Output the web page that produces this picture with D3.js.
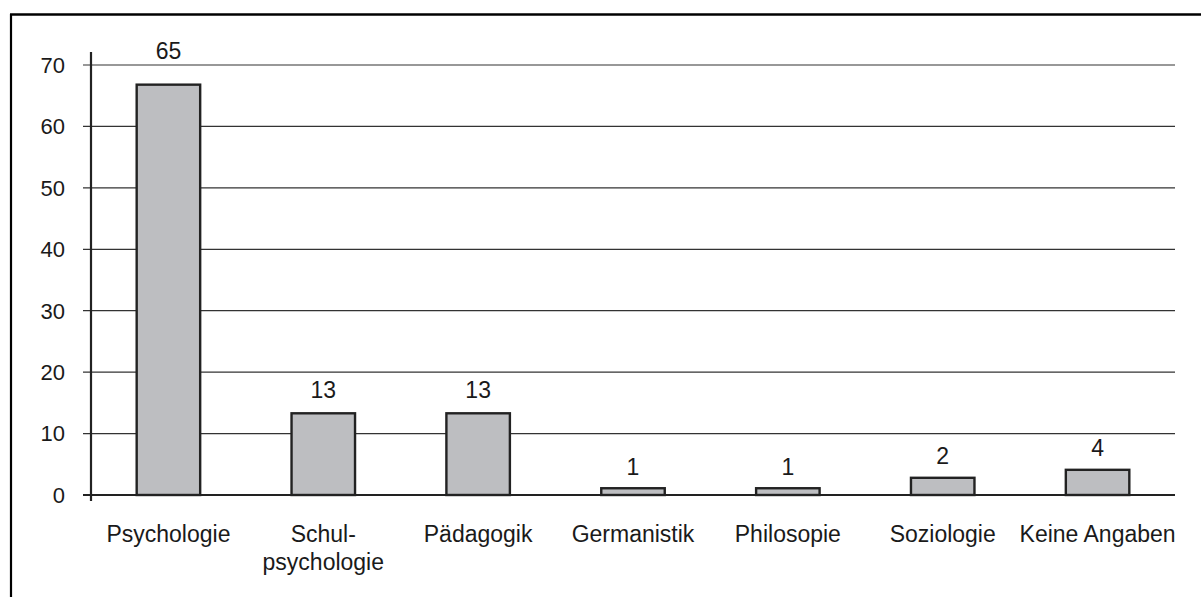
<!DOCTYPE html>
<html>
<head>
<meta charset="utf-8">
<script src="https://cdn.jsdelivr.net/npm/d3@7"></script>
<style>
  body { margin: 0; background: #fff; }
  text { font-family: "Liberation Sans", Arial, sans-serif; fill: #1a1a1a; }
</style>
</head>
<body>
<div id="chart"></div>
<script>
// categories (x axis), two-line labels split on "\n"
var categories = ["Psychologie", "Schul-\npsychologie", "Pädagogik", "Germanistik", "Philosopie", "Soziologie", "Keine Angaben"];
// bar heights as drawn in the picture
var barHeights = [66.8, 13.3, 13.3, 1.1, 1.1, 2.8, 4.1];
// value labels printed above the bars
var valueLabels = [65, 13, 13, 1, 1, 2, 4];
var yTicks = [0, 10, 20, 30, 40, 50, 60, 70];

var width = 1201, height = 597;
var svg = d3.select("#chart").append("svg")
  .attr("width", width)
  .attr("height", height);

// outer frame (left and top only visible)
svg.append("line").attr("x1", 11).attr("x2", 11).attr("y1", 14).attr("y2", height)
  .attr("stroke", "#000").attr("stroke-width", 2.2);
svg.append("line").attr("x1", 10).attr("x2", width).attr("y1", 14.5).attr("y2", 14.5)
  .attr("stroke", "#000").attr("stroke-width", 2.5);

var x = d3.scaleBand()
  .domain(categories)
  .range([91, 1175])
  .paddingInner(0.59)
  .paddingOuter(0.295);

var y = d3.scaleLinear()
  .domain([0, 70])
  .range([495, 65]);

// gridlines
svg.selectAll(".grid")
  .data(yTicks.filter(function(d) { return d > 0; }))
  .enter().append("line")
  .attr("class", "grid")
  .attr("x1", 83).attr("x2", 1175)
  .attr("y1", function(d) { return y(d); })
  .attr("y2", function(d) { return y(d); })
  .attr("stroke", "#333").attr("stroke-width", 1.2);

// y tick labels
svg.selectAll(".ytick")
  .data(yTicks)
  .enter().append("text")
  .attr("class", "ytick")
  .attr("x", 65)
  .attr("y", function(d) { return y(d); })
  .attr("dy", "0.36em")
  .attr("text-anchor", "end")
  .style("font-size", "22px")
  .text(function(d) { return d; });

// bars
svg.selectAll(".bar")
  .data(barHeights)
  .enter().append("rect")
  .attr("class", "bar")
  .attr("x", function(d, i) { return x(categories[i]); })
  .attr("width", x.bandwidth())
  .attr("y", function(d) { return y(d); })
  .attr("height", function(d) { return y(0) - y(d); })
  .attr("fill", "#bdbec1")
  .attr("stroke", "#222")
  .attr("stroke-width", 2.4);

// value labels
svg.selectAll(".val")
  .data(valueLabels)
  .enter().append("text")
  .attr("class", "val")
  .attr("x", function(d, i) { return x(categories[i]) + x.bandwidth() / 2; })
  .attr("y", function(d, i) { return y(barHeights[i]) - 13 - 0.2 * d; })
  .attr("text-anchor", "middle")
  .style("font-size", "23px")
  .text(function(d) { return d; });

// baseline and y axis
svg.append("line").attr("x1", 83).attr("x2", 1175).attr("y1", y(0)).attr("y2", y(0))
  .attr("stroke", "#222").attr("stroke-width", 2.2);
svg.append("line").attr("x1", 91).attr("x2", 91).attr("y1", 52).attr("y2", 501)
  .attr("stroke", "#222").attr("stroke-width", 2.2);

// category labels
var cat = svg.selectAll(".cat")
  .data(categories)
  .enter().append("text")
  .attr("class", "cat")
  .attr("x", function(d) { return x(d) + x.bandwidth() / 2; })
  .attr("y", 542)
  .attr("text-anchor", "middle")
  .style("font-size", "23px");
cat.selectAll("tspan")
  .data(function(d) { return d.split("\n"); })
  .enter().append("tspan")
  .attr("x", function() { return d3.select(this.parentNode).attr("x"); })
  .attr("dy", function(d, i) { return i ? 28 : 0; })
  .text(function(d) { return d; });
</script>
</body>
</html>
